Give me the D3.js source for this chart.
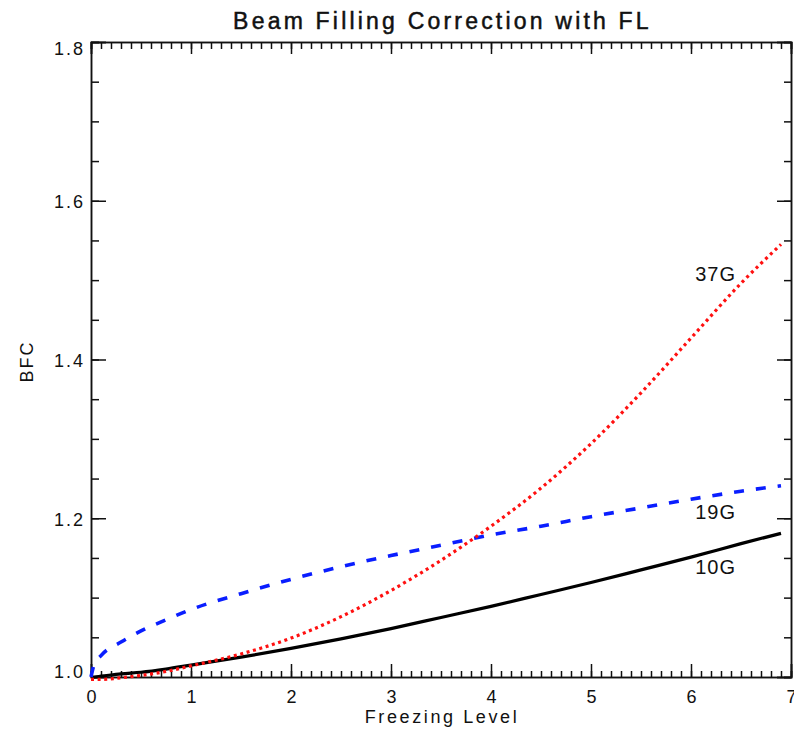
<!DOCTYPE html>
<html>
<head>
<meta charset="utf-8">
<script src="https://cdn.jsdelivr.net/npm/d3@7"></script>
<style>
  body { margin: 0; background: #fff; }
  svg { display: block; font-family: "Liberation Sans", Arial, sans-serif; }
  .axis path, .axis line { stroke: #111; stroke-width: 1.5; }
  .axis text { font-size: 18px; fill: #111; letter-spacing: 2px; }
</style>
</head>
<body>
<div id="view"></div>
<script>
// ---------- Data ----------
const FL = [0, 0.03, 0.1, 0.3, 0.5, 0.75, 1, 1.5, 2, 2.5, 3, 3.5, 4, 4.5, 5, 5.5, 6, 6.5, 6.9];
const BFC_10G = [1.000, 1.000, 1.001, 1.004, 1.006, 1.010, 1.015, 1.025, 1.036, 1.048, 1.061, 1.075, 1.089, 1.104, 1.119, 1.135, 1.151, 1.168, 1.181];
const BFC_19G = [1.000, 1.015, 1.027, 1.044, 1.058, 1.072, 1.085, 1.105, 1.123, 1.139, 1.153, 1.166, 1.179, 1.190, 1.202, 1.213, 1.224, 1.234, 1.241];
const BFC_37G = [0.997, 0.997, 0.997, 0.999, 1.002, 1.007, 1.014, 1.029, 1.049, 1.076, 1.109, 1.147, 1.190, 1.238, 1.294, 1.358, 1.427, 1.496, 1.545];

const X_TICKS = [0, 1, 2, 3, 4, 5, 6, 7];
const Y_TICKS = [1.0, 1.2, 1.4, 1.6, 1.8];

// series labels: name + anchor point in data units
const LABELS = [
  { name: "37G", fl: 6.45, bfc: 1.499 },
  { name: "19G", fl: 6.45, bfc: 1.199 },
  { name: "10G", fl: 6.45, bfc: 1.130 }
];

const SERIES = [
  { name: "10G", values: BFC_10G, color: "#000000", width: 3.2, dash: null },
  { name: "19G", values: BFC_19G, color: "#0a1eff", width: 3.6, dash: "10,12" },
  { name: "37G", values: BFC_37G, color: "#ff1010", width: 3.2, dash: "3,3.6" }
];

// ---------- Draw ----------
const W = 794, H = 731;
const M = { t: 42, r: 3, b: 54, l: 91 };

const svg = d3.select("#view").append("svg").attr("width", W).attr("height", H);

const x = d3.scaleLinear().domain([0, 7]).range([M.l, W - M.r]);
const y = d3.scaleLinear().domain([1.0, 1.8]).range([H - M.b, M.t]);

const xMinor = d3.range(0, 70.5).map(i => i / 10);
const yMinor = d3.range(0, 16.5).map(i => 1 + i * 0.05);

// bottom
const gb = svg.append("g").attr("class", "axis").attr("transform", `translate(0,${y(1.0)})`);
gb.call(d3.axisBottom(x).tickValues(xMinor).tickSize(-6).tickFormat(""));
gb.call(g => g.append("g").call(d3.axisBottom(x).tickValues(X_TICKS).tickSize(-13).tickPadding(26).tickFormat(d3.format("d"))));
gb.selectAll("text").attr("dy", 0).attr("dx", "1px");

// top
const gt = svg.append("g").attr("class", "axis").attr("transform", `translate(0,${y(1.8)})`);
gt.call(d3.axisTop(x).tickValues(xMinor).tickSize(-7).tickFormat(""));
gt.call(g => g.append("g").call(d3.axisTop(x).tickValues(X_TICKS).tickSize(-12).tickFormat("")));

// left
const gl = svg.append("g").attr("class", "axis").attr("transform", `translate(${x(0)},0)`);
gl.call(d3.axisLeft(y).tickValues(yMinor).tickSize(-8).tickFormat(""));
gl.call(g => g.append("g").call(d3.axisLeft(y).tickValues(Y_TICKS).tickSize(-15).tickPadding(6).tickFormat(d3.format(".1f"))));
// IDL shifts the end labels inward
gl.selectAll("text")
  .attr("dy", d => d === 1.8 ? "0.68em" : d === 1.0 ? "0.05em" : "0.4em");

// right
const gr = svg.append("g").attr("class", "axis").attr("transform", `translate(${x(7)},0)`);
gr.call(d3.axisRight(y).tickValues(yMinor).tickSize(-7).tickFormat(""));
gr.call(g => g.append("g").call(d3.axisRight(y).tickValues(Y_TICKS).tickSize(-14).tickFormat("")));

// curves
const line = d3.line()
  .x((d, i) => x(FL[i]))
  .y(d => y(d))
  .curve(d3.curveMonotoneX);

svg.append("g").selectAll("path.curve")
  .data(SERIES)
  .join("path")
  .attr("class", "curve")
  .attr("fill", "none")
  .attr("stroke", d => d.color)
  .attr("stroke-width", d => d.width)
  .attr("stroke-dasharray", d => d.dash)
  .attr("d", d => line(d.values));

// series labels
svg.append("g").selectAll("text")
  .data(LABELS)
  .join("text")
  .attr("x", d => x(d.fl))
  .attr("y", d => y(d.bfc))
  .attr("text-anchor", "end")
  .style("font-size", "20px")
  .style("letter-spacing", "1px")
  .style("fill", "#111")
  .text(d => d.name);

// title
svg.append("text")
  .attr("x", (x(0) + x(7)) / 2 + 1.5)
  .attr("y", 29)
  .attr("text-anchor", "middle")
  .style("font-size", "23px")
  .style("letter-spacing", "3.2px")
  .style("fill", "#111")
  .style("stroke", "#111")
  .style("stroke-width", 0.5)
  .text("Beam Filling Correction with FL");

// axis titles
svg.append("text")
  .attr("x", (x(0) + x(7)) / 2 + 1)
  .attr("y", 723)
  .attr("text-anchor", "middle")
  .style("font-size", "18px")
  .style("letter-spacing", "2.6px")
  .style("fill", "#111")
  .text("Freezing Level");

svg.append("text")
  .attr("transform", `translate(33,${y(1.4) + 2}) rotate(-90)`)
  .attr("text-anchor", "middle")
  .style("font-size", "18px")
  .style("letter-spacing", "2px")
  .style("fill", "#111")
  .text("BFC");
</script>
</body>
</html>
